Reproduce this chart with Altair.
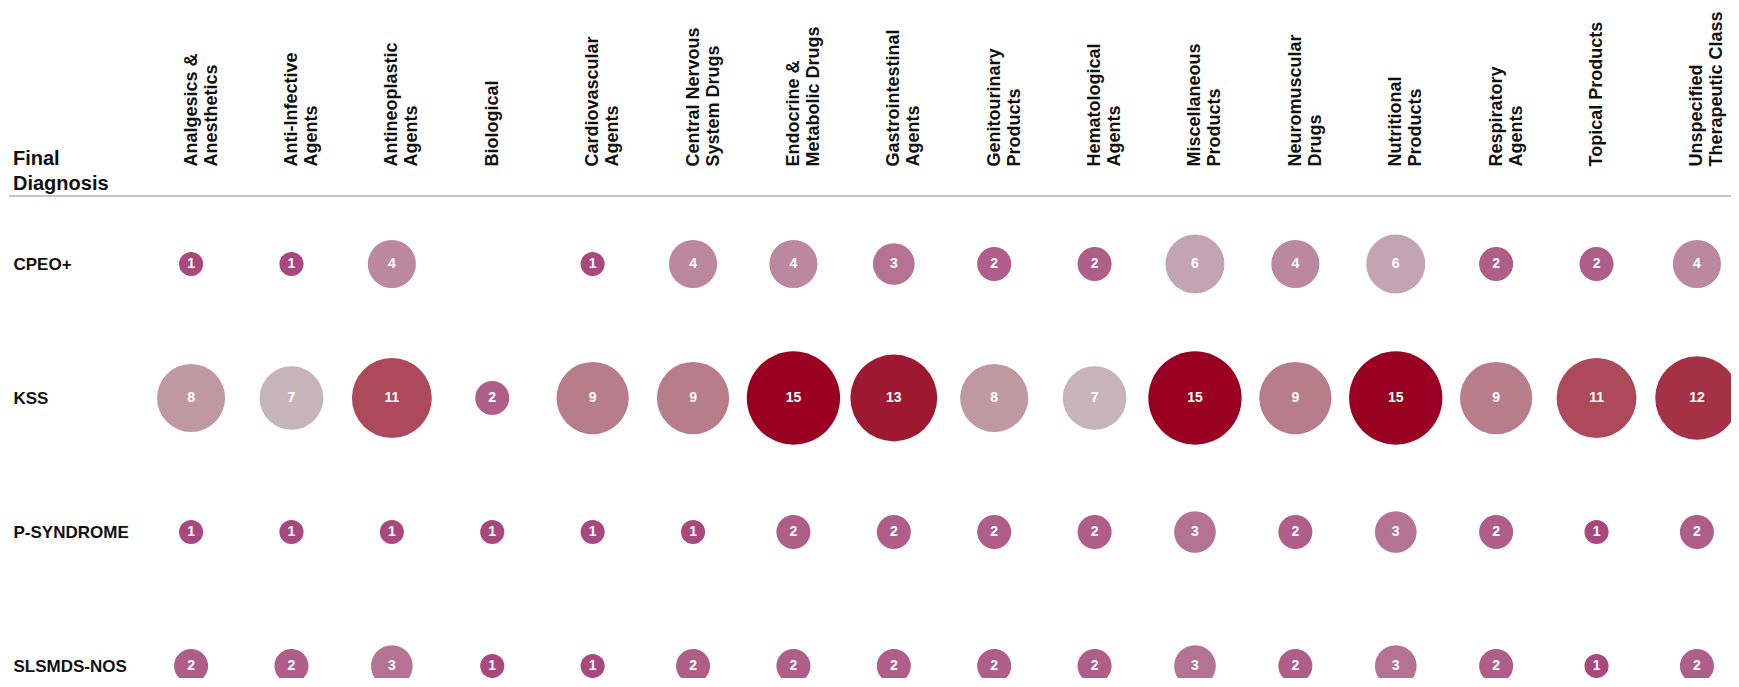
import altair as alt
import pandas as pd

drug_classes = [
    "Analgesics &\nAnesthetics", "Anti-Infective\nAgents", "Antineoplastic\nAgents", "Biological",
    "Cardiovascular\nAgents", "Central Nervous\nSystem Drugs", "Endocrine &\nMetabolic Drugs",
    "Gastrointestinal\nAgents", "Genitourinary\nProducts", "Hematological\nAgents",
    "Miscellaneous\nProducts", "Neuromuscular\nDrugs", "Nutritional\nProducts",
    "Respiratory\nAgents", "Topical Products", "Unspecified\nTherapeutic Class",
]
diagnoses = ["CPEO+", "KSS", "P-SYNDROME", "SLSMDS-NOS"]
cpeo = [1, 1, 4, None, 1, 4, 4, 3, 2, 2, 6, 4, 6, 2, 2, 4]
kss = [8, 7, 11, 2, 9, 9, 15, 13, 8, 7, 15, 9, 15, 9, 11, 12]
psyndrome = [1, 1, 1, 1, 1, 1, 2, 2, 2, 2, 3, 2, 3, 2, 1, 2]
slsmds = [2, 2, 3, 1, 1, 2, 2, 2, 2, 2, 3, 2, 3, 2, 1, 2]

series = {"CPEO+": cpeo, "KSS": kss, "P-SYNDROME": psyndrome, "SLSMDS-NOS": slsmds}
rows = []
for dx in diagnoses:
    for cls, v in zip(drug_classes, series[dx]):
        if v is not None:
            rows.append({"diagnosis": dx, "cls": cls, "count": v})
df = pd.DataFrame(rows)

FONT = "Liberation Sans"
W, H = 1546, 482

x_enc = alt.X(
    "cls:N", sort=drug_classes,
    scale=alt.Scale(type="point", padding=0.2),
    axis=alt.Axis(orient="top", title=None, labelAngle=270, labelAlign="left",
                  labelBaseline="middle", labelPadding=30, ticks=False, domain=False,
                  grid=False, labelFont=FONT, labelFontSize=18, labelFontWeight="bold",
                  labelColor="#111111", labelLimit=0, labelLineHeight=20,
                  labelExpr="split(datum.label, '\\n')"),
)
y_enc = alt.Y(
    "diagnosis:N", sort=diagnoses,
    scale=alt.Scale(type="point", range=[68, 470], padding=0),
    axis=alt.Axis(title=None, labelAlign="left", labelBaseline="middle", labelPadding=158,
                  ticks=False, domain=False, grid=False, labelFont=FONT, labelFontSize=17,
                  labelFontWeight="bold", labelColor="#111111", labelLimit=0),
)

base = alt.Chart(df).encode(x=x_enc, y=y_enc)

circles = base.mark_circle(opacity=1).encode(
    size=alt.Size("count:Q", scale=alt.Scale(domain=[0, 15], range=[0, 8700]), legend=None),
    color=alt.Color(
        "count:Q",
        scale=alt.Scale(domain=[1, 4, 7, 9, 11, 13, 15],
                        range=["#a8487e", "#bc889f", "#c6b4ba", "#b77d88", "#ac4a5c", "#9e1832", "#990022"],
                        interpolate="rgb"),
        legend=None,
    ),
)

labels = base.mark_text(font=FONT, fontSize=14, fontWeight="bold", color="white",
                        align="center", baseline="middle").encode(text="count:Q")

rule = alt.Chart(pd.DataFrame({"k": [0]})).mark_rule(color="#c4c4c4", strokeWidth=2).encode(
    x=alt.value(-162), x2=alt.value(W + 30), y=alt.value(0)
)

title_txt = alt.Chart(pd.DataFrame({"t": ["Final\nDiagnosis"]})).mark_text(
    font=FONT, fontSize=20, fontWeight="bold", color="#111111", align="left",
    baseline="middle", lineBreak="\n", lineHeight=25,
).encode(x=alt.value(-158), y=alt.value(-37), text="t:N")

chart = alt.layer(circles, labels, rule, title_txt).properties(
    width=W, height=H,
    padding={"left": 163, "top": 188, "right": 14, "bottom": 0},
    autosize=alt.AutoSizeParams(type="none"),
).configure(background="white").configure_view(stroke=None, strokeWidth=0)

chart.save("out.html", embed_options={"renderer": "svg", "actions": False})
